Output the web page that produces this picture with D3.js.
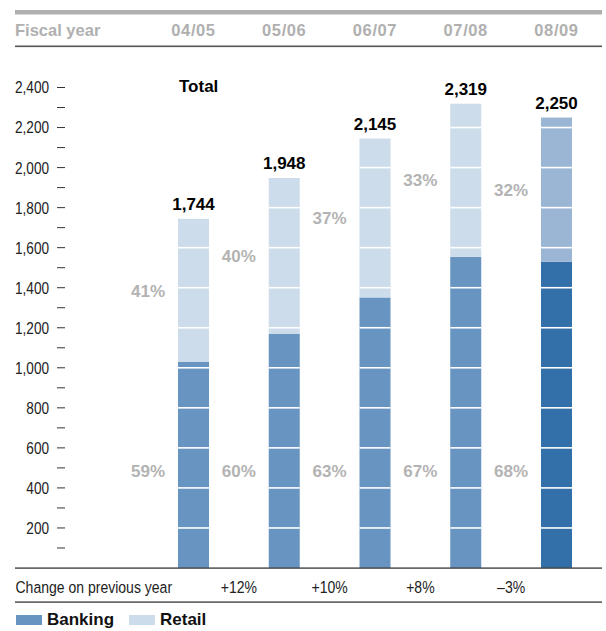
<!DOCTYPE html>
<html>
<head>
<meta charset="utf-8">
<script src="https://cdn.jsdelivr.net/npm/d3@7"></script>
<style>
  html, body { margin: 0; padding: 0; background: #fff; }
  svg { display: block; }
  .narrow { font-family: "Liberation Sans", Arial, Helvetica, sans-serif; }
  .bold { font-family: "Liberation Sans", Arial, Helvetica, sans-serif; font-weight: bold; }
</style>
</head>
<body>
<svg id="chart" width="606" height="631"></svg>
<script>
// Fiscal years and segment data
const years = ["04/05", "05/06", "06/07", "07/08", "08/09"];
const totals = [1744, 1948, 2145, 2319, 2250];
const bankingShare = [59, 60, 63, 67, 68];
const retailShare = [41, 40, 37, 33, 32];
const changes = ["+12%", "+10%", "+8%", "\u20133%"];
const yTicks = [200, 400, 600, 800, 1000, 1200, 1400, 1600, 1800, 2000, 2200, 2400];
const yMinorTicks = [100, 300, 500, 700, 900, 1100, 1300, 1500, 1700, 1900, 2100, 2300];

const colors = {
  banking: "#6794c0",
  retail: "#ccdcea",
  bankingLatest: "#336fa8",
  retailLatest: "#9bb6d5",
  grey: "#b3b3b3",
  rule: "#444"
};

// Horizontal squeeze that gives regular text a condensed look
const NARROW = 0.85;

const svg = d3.select("#chart");
const W = 606;

const y = d3.scaleLinear().domain([0, 2400]).range([568, 87.5]);
const x = d3.scalePoint().domain(years).range([193.5, 556.5]);
const barW = 31;
const step = x.step();

const rows = years.map((yr, i) => {
  const banking = totals[i] * bankingShare[i] / 100;
  return { yr, i, total: totals[i], banking, retail: totals[i] - banking,
           bPct: bankingShare[i], rPct: retailShare[i], latest: i === years.length - 1 };
});

// Header: top grey band, column labels, dark rule
svg.append("rect").attr("x", 15).attr("y", 10).attr("width", W - 19).attr("height", 4.5).attr("fill", "#b0b0b0");
svg.append("text").attr("class", "bold").attr("x", 15).attr("y", 36)
  .attr("font-size", 16.5).attr("fill", "#b0b0b0").text("Fiscal year");
svg.selectAll("text.yr").data(years).join("text")
  .attr("class", "bold yr").attr("x", d => x(d)).attr("y", 36)
  .attr("text-anchor", "middle").attr("font-size", 16.5).attr("fill", "#b0b0b0")
  .attr("letter-spacing", 0.6).text(d => d);
svg.append("rect").attr("x", 15).attr("y", 45.5).attr("width", W - 19).attr("height", 1.6).attr("fill", "#555");

// Y axis: labelled ticks and short minor dashes
const axis = d3.axisLeft(y).tickValues(yTicks).tickSize(0).tickPadding(0).tickFormat(d3.format(","));
const gAxis = svg.append("g").attr("transform", "translate(49,0)").call(axis);
gAxis.select(".domain").remove();
gAxis.selectAll("text").attr("class", "narrow").attr("font-size", 16).attr("fill", "#222")
  .attr("x", 0).attr("dy", "0.34em").attr("transform", `scale(${NARROW},1)`);
svg.selectAll("line.tick").data(yTicks.concat(yMinorTicks)).join("line")
  .attr("class", "tick").attr("x1", 57).attr("x2", 65)
  .attr("y1", d => y(d)).attr("y2", d => y(d)).attr("stroke", "#333").attr("stroke-width", 1);

// Stacked bars
const bars = svg.append("g");
bars.selectAll("rect.banking").data(rows).join("rect")
  .attr("class", "banking")
  .attr("x", d => x(d.yr) - barW / 2).attr("width", barW)
  .attr("y", d => y(d.banking)).attr("height", d => y(0) - y(d.banking))
  .attr("fill", d => d.latest ? colors.bankingLatest : colors.banking);
bars.selectAll("rect.retail").data(rows).join("rect")
  .attr("class", "retail")
  .attr("x", d => x(d.yr) - barW / 2).attr("width", barW)
  .attr("y", d => y(d.total)).attr("height", d => y(d.banking) - y(d.total))
  .attr("fill", d => d.latest ? colors.retailLatest : colors.retail);

// White gridlines cutting through the bars every 200
rows.forEach(d => {
  bars.selectAll(null).data(yTicks.filter(t => t < d.total)).join("line")
    .attr("x1", x(d.yr) - barW / 2).attr("x2", x(d.yr) + barW / 2)
    .attr("y1", t => y(t)).attr("y2", t => y(t))
    .attr("stroke", "#fff").attr("stroke-width", 1.6);
});

// Totals above bars
svg.selectAll("text.total").data(rows).join("text")
  .attr("class", "bold total").attr("x", d => x(d.yr)).attr("y", d => y(d.total) - 8.5)
  .attr("text-anchor", "middle").attr("font-size", 17).attr("fill", "#000")
  .text(d => d3.format(",")(d.total));
svg.append("text").attr("class", "bold").attr("x", x(years[0]) - barW / 2 + 1).attr("y", 92)
  .attr("font-size", 17).attr("fill", "#000").text("Total");

// Share labels to the left of each bar
const bankingLabelLevel = 484;
svg.selectAll("text.rpct").data(rows).join("text")
  .attr("class", "bold rpct").attr("x", d => x(d.yr) - step / 2).attr("y", d => y((d.total + d.banking) / 2))
  .attr("dy", "0.36em").attr("text-anchor", "middle").attr("font-size", 17).attr("fill", colors.grey)
  .text(d => d.rPct + "%");
svg.selectAll("text.bpct").data(rows).join("text")
  .attr("class", "bold bpct").attr("x", d => x(d.yr) - step / 2).attr("y", y(bankingLabelLevel))
  .attr("dy", "0.36em").attr("text-anchor", "middle").attr("font-size", 17).attr("fill", colors.grey)
  .text(d => d.bPct + "%");

// Baseline and year-on-year change row
svg.append("rect").attr("x", 15).attr("y", y(0) - 0.6).attr("width", W - 19).attr("height", 1.4).attr("fill", colors.rule);
svg.append("g").attr("transform", `translate(15.5,593) scale(${NARROW},1)`)
  .append("text").attr("class", "narrow").attr("x", 0).attr("y", 0)
  .attr("font-size", 16.5).attr("fill", "#222").text("Change on previous year");
svg.selectAll("g.chg").data(changes).join("g")
  .attr("class", "chg").attr("transform", (d, i) => `translate(${x(years[i]) + step / 2},593) scale(${NARROW},1)`)
  .append("text").attr("class", "narrow").attr("x", 0).attr("y", 0)
  .attr("text-anchor", "middle").attr("font-size", 16.5).attr("fill", "#222").text(d => d);
svg.append("rect").attr("x", 15).attr("y", 601.4).attr("width", W - 19).attr("height", 1.4).attr("fill", colors.rule);

// Legend
const legend = [
  { label: "Banking", color: colors.banking, x: 16 },
  { label: "Retail", color: colors.retail, x: 129 }
];
const lg = svg.selectAll("g.lg").data(legend).join("g").attr("class", "lg")
  .attr("transform", d => `translate(${d.x},0)`);
lg.append("rect").attr("x", 0).attr("y", 615).attr("width", 26).attr("height", 10).attr("fill", d => d.color);
lg.append("text").attr("class", "bold").attr("x", 31).attr("y", 625)
  .attr("font-size", 17).attr("fill", "#111").text(d => d.label);
</script>
</body>
</html>
